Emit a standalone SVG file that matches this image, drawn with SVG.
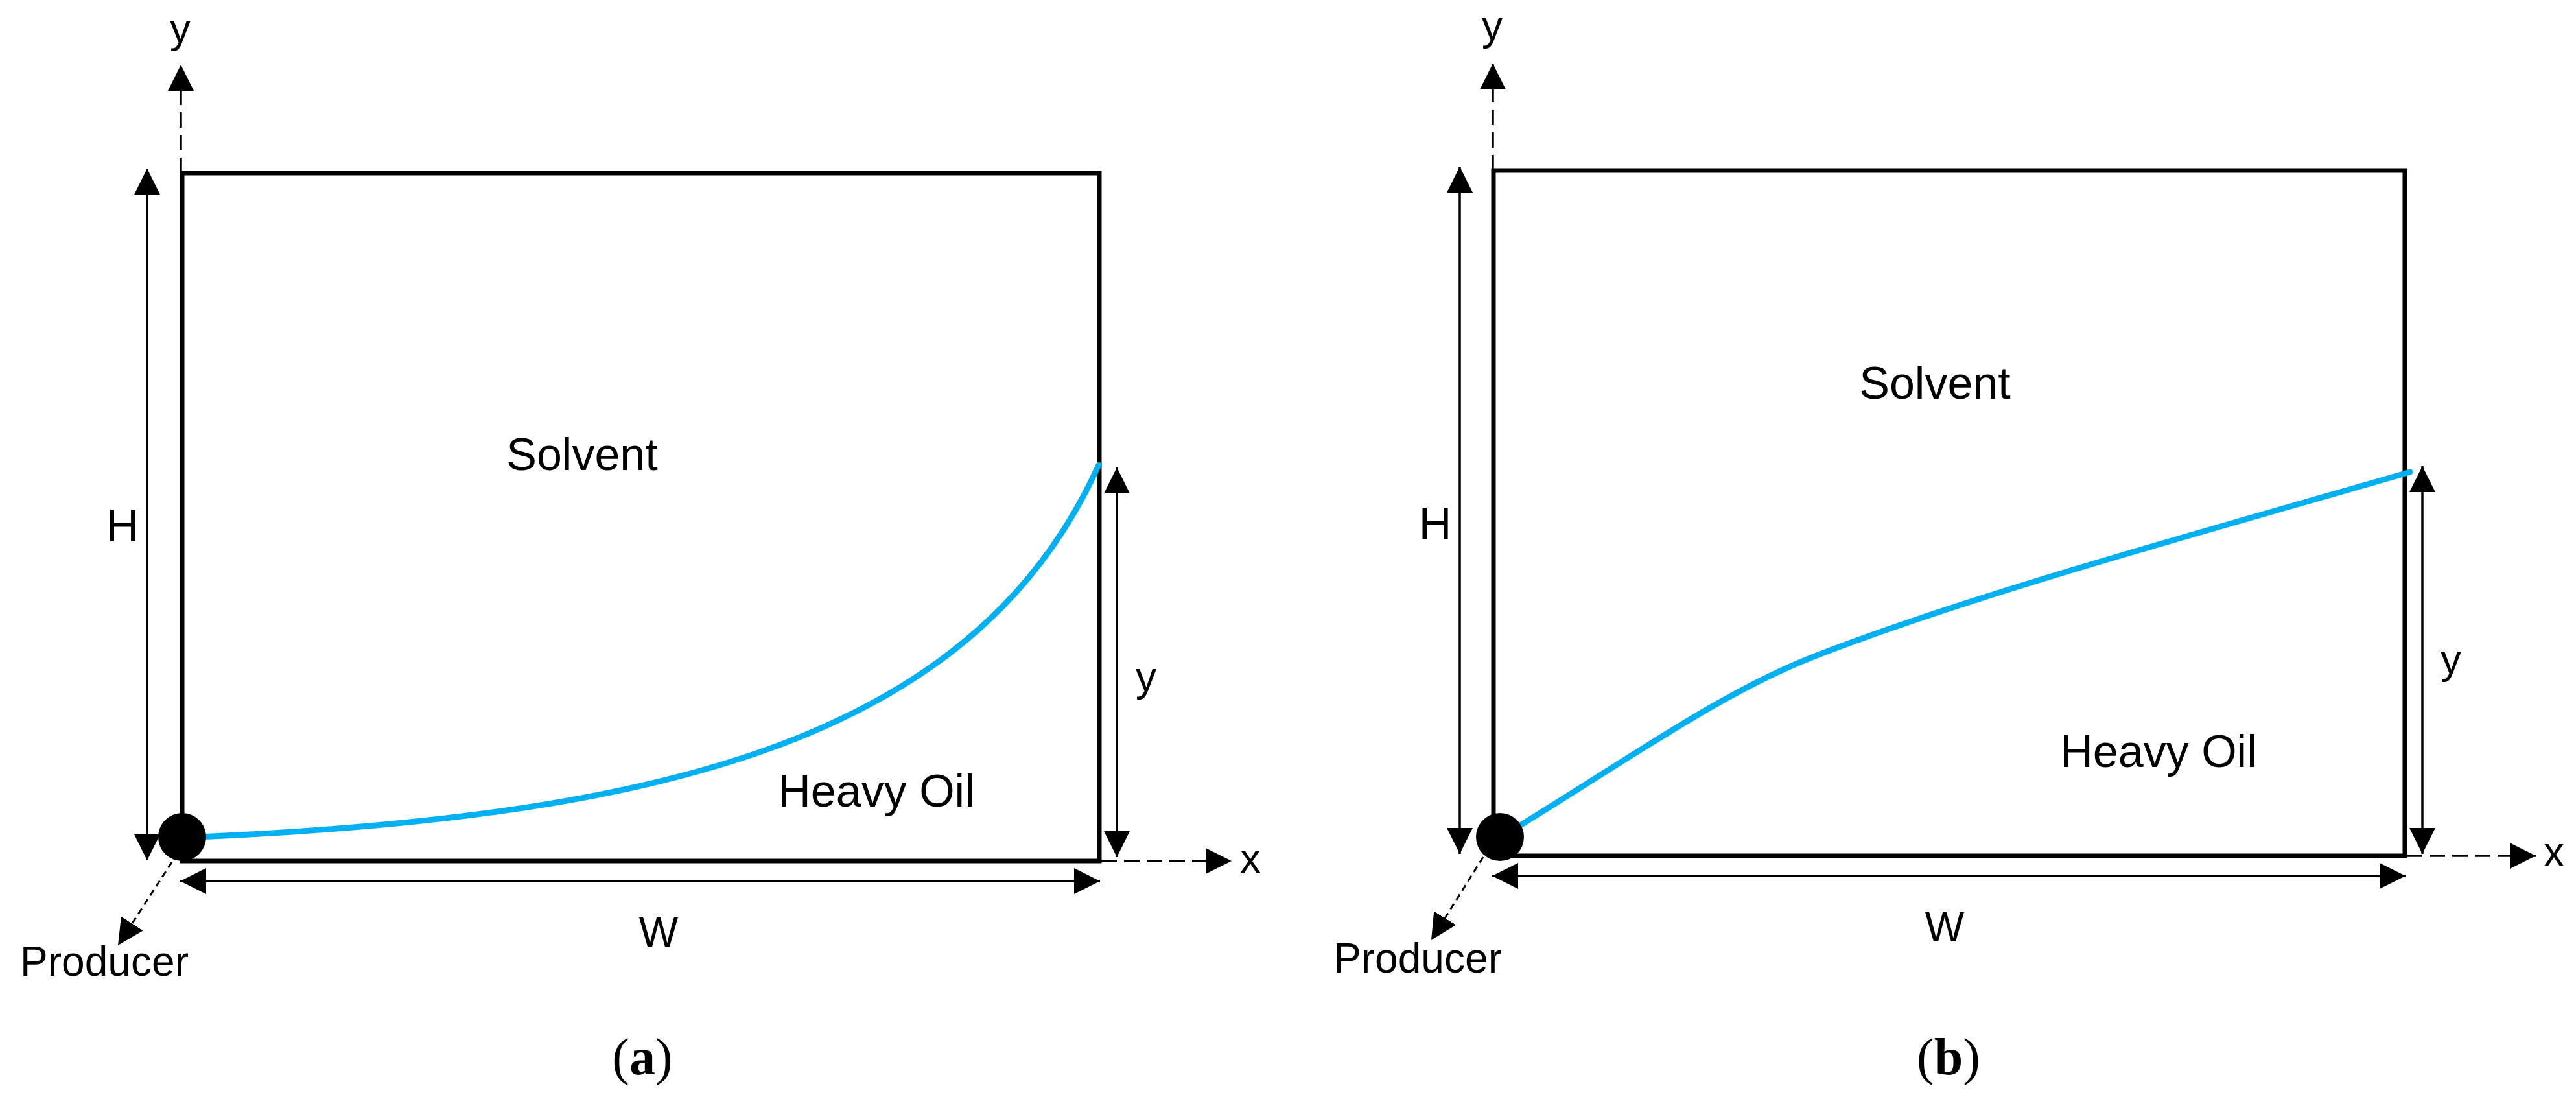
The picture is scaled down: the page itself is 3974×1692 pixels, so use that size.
<svg xmlns="http://www.w3.org/2000/svg" width="3974" height="1692" viewBox="0 0 3974 1692">
<style>
.box{fill:none;stroke:#000;stroke-width:7}
.dim{fill:none;stroke:#000;stroke-width:3.5}
.axis{fill:none;stroke:#000;stroke-width:3.5;stroke-dasharray:24 11}
.prod{fill:none;stroke:#000;stroke-width:3;stroke-dasharray:10 7}
.curve{fill:none;stroke:#00B0F0;stroke-width:9;stroke-linecap:round}
.lbl{font-family:"Liberation Sans",Arial,sans-serif;font-size:70px;fill:#000;text-anchor:middle}
.sm{font-family:"Liberation Sans",Arial,sans-serif;font-size:64px;fill:#000;text-anchor:middle}
.cap{font-family:"Liberation Serif","Times New Roman",serif;font-size:80px;fill:#000;text-anchor:middle}
</style>
<defs>
<marker id="ah" markerUnits="userSpaceOnUse" markerWidth="40" markerHeight="40" viewBox="0 0 38 38" refX="38" refY="19" orient="auto-start-reverse">
<path d="M0,0 L38,19 L0,38 Z" fill="#000"/>
</marker>
</defs>

<g id="panel-a">
<g id="a-box"><rect class="box" x="281" y="267" width="1415" height="1061"/></g>
<g id="a-curve"><path class="curve" d="M281,1292 C1000,1262 1500,1150 1695,717"/></g>
<g id="a-producer"><circle cx="281" cy="1291" r="37" fill="#000"/></g>
<g id="a-labels">
<text class="lbl" x="898" y="725">Solvent</text>
<text class="lbl" x="1352" y="1244">Heavy Oil</text>
<text class="lbl" x="189" y="835">H</text>
<text class="sm" x="1016" y="1460">W</text>
<text class="sm" x="278" y="66">y</text>
<text class="sm" x="1768" y="1066">y</text>
<text class="sm" x="1929" y="1346">x</text>
<text class="sm" x="161" y="1505" textLength="260" lengthAdjust="spacingAndGlyphs">Producer</text>
<text class="cap" x="991" y="1657">(<tspan font-weight="bold">a</tspan>)</text>
</g>
</g>

<g id="panel-b">
<g id="b-box"><rect class="box" x="2304" y="263" width="1406" height="1057"/></g>
<g id="b-curve"><path class="curve" d="M2314,1292 C2500,1180 2650,1070 2800,1012 C3050,915 3400,820 3718,728"/></g>
<g id="b-producer"><circle cx="2314" cy="1291" r="37" fill="#000"/></g>
<g id="b-labels">
<text class="lbl" x="2985" y="615">Solvent</text>
<text class="lbl" x="3330" y="1183">Heavy Oil</text>
<text class="lbl" x="2214" y="832">H</text>
<text class="sm" x="3000" y="1452">W</text>
<text class="sm" x="2302" y="62">y</text>
<text class="sm" x="3781" y="1039">y</text>
<text class="sm" x="3940" y="1336">x</text>
<text class="sm" x="2187" y="1500" textLength="260" lengthAdjust="spacingAndGlyphs">Producer</text>
<text class="cap" x="3006" y="1657">(<tspan font-weight="bold">b</tspan>)</text>
</g>
</g>

<g id="connectors">
<line class="axis" x1="279" y1="267" x2="279" y2="100" marker-end="url(#ah)"/>
<line class="axis" x1="1699" y1="1328" x2="1900" y2="1328" marker-end="url(#ah)"/>
<line class="prod" x1="265" y1="1330" x2="182" y2="1458" marker-end="url(#ah)"/>
<line class="dim" x1="227" y1="260" x2="227" y2="1327" marker-start="url(#ah)" marker-end="url(#ah)"/>
<line class="dim" x1="278" y1="1359" x2="1697" y2="1359" marker-start="url(#ah)" marker-end="url(#ah)"/>
<line class="dim" x1="1723" y1="721" x2="1723" y2="1322" marker-start="url(#ah)" marker-end="url(#ah)"/>

<line class="axis" x1="2303" y1="263" x2="2303" y2="98" marker-end="url(#ah)"/>
<line class="axis" x1="3713" y1="1320" x2="3912" y2="1320" marker-end="url(#ah)"/>
<line class="prod" x1="2288" y1="1322" x2="2208" y2="1450" marker-end="url(#ah)"/>
<line class="dim" x1="2252" y1="257" x2="2252" y2="1317" marker-start="url(#ah)" marker-end="url(#ah)"/>
<line class="dim" x1="2302" y1="1351" x2="3711" y2="1351" marker-start="url(#ah)" marker-end="url(#ah)"/>
<line class="dim" x1="3737" y1="719" x2="3737" y2="1317" marker-start="url(#ah)" marker-end="url(#ah)"/>
</g>
</svg>
